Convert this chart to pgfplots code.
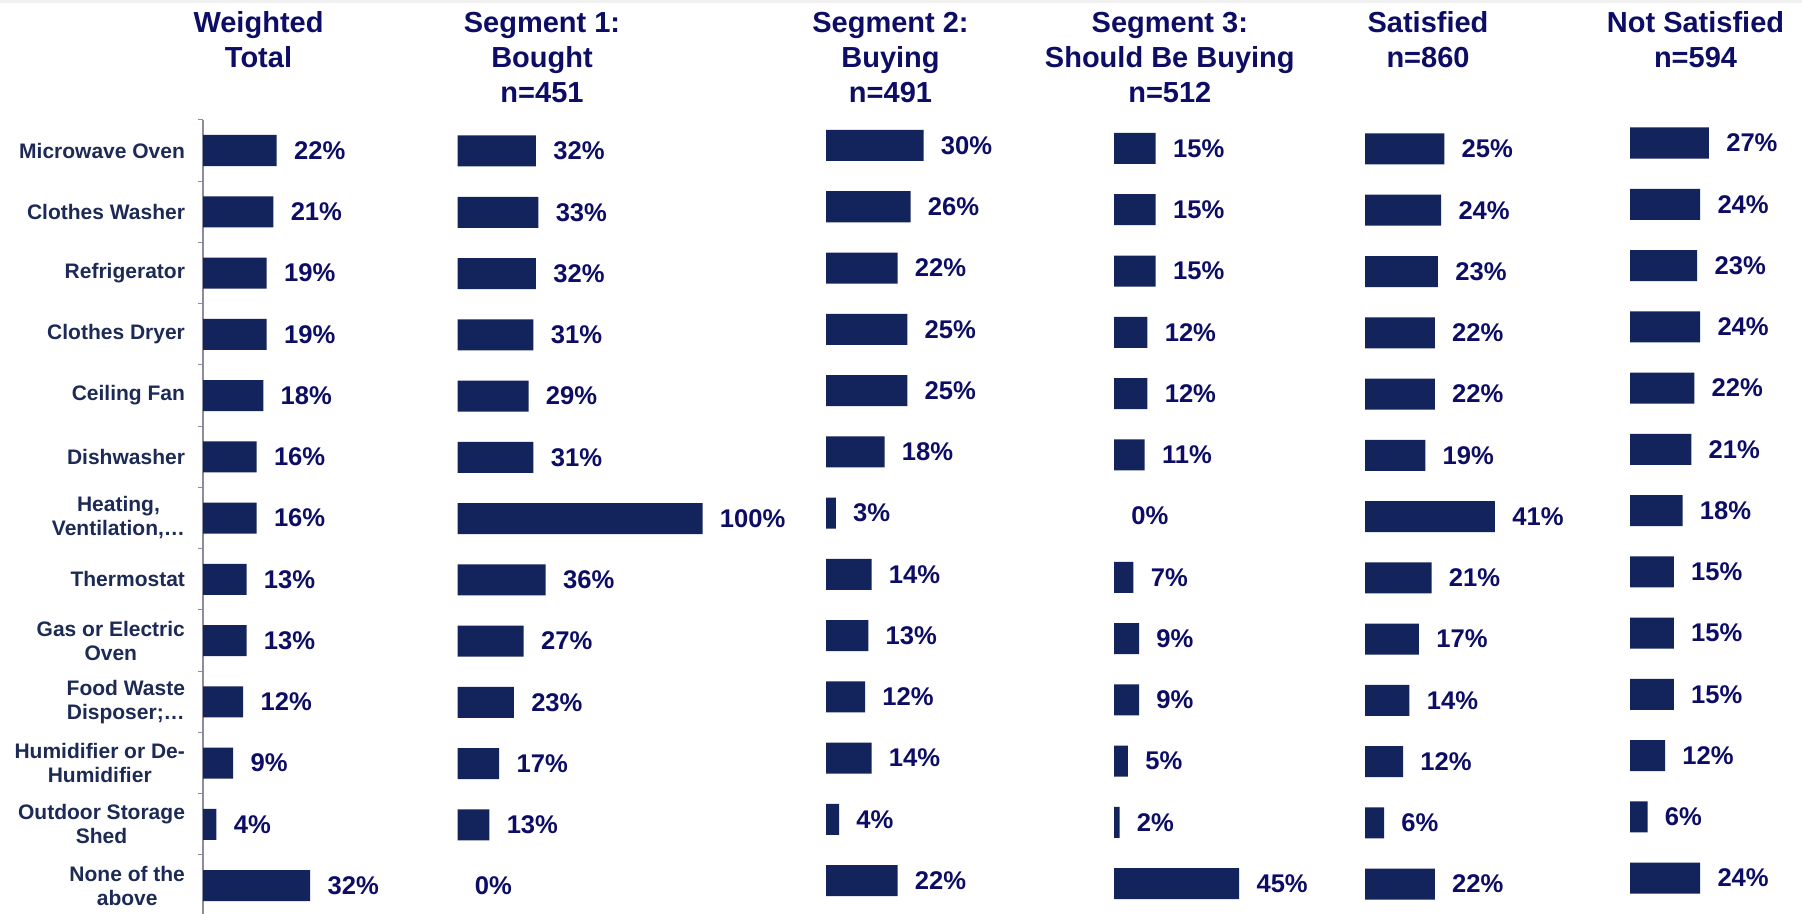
\documentclass[border=0pt]{standalone}
\usepackage{fontspec}
\setmainfont{Liberation Sans}
\usepackage{pgfplots}
\pgfplotsset{compat=1.18}
\definecolor{barblue}{HTML}{13235B}
\definecolor{navy}{HTML}{0D0D66}
\definecolor{catcol}{HTML}{1C2A55}
\definecolor{axisgray}{HTML}{8C8C9C}
\pgfplotsset{
  panel/.style={
    xbar, scale only axis, xmin=0, xmax=100, ymin=-0.5, ymax=12.5, y dir=reverse,
    height=398.125pt, bar width=15.5pt, clip=false, anchor=north west,
    point meta=x,
    /pgf/number format/assume math mode=true,
    nodes near coords={\pgfmathprintnumber{\pgfplotspointmeta}\%},
    nodes near coords align={horizontal},
    every node near coord/.append style={font=\bfseries\fontsize{12.8}{14}\selectfont, text=navy, inner sep=0pt, anchor=west, xshift=8.5pt},
  },
  hidden/.style={panel, hide axis},
  bars/.style={fill=barblue, draw=none, bar shift=0pt},
  zerobar/.style={fill=none, draw=none, bar shift=0pt},
}
\tikzset{ttl/.style={anchor=north, align=center, font=\bfseries\fontsize{14.5}{17.5}\selectfont, text=navy, inner sep=0pt}}
\begin{document}
\begin{tikzpicture}
\path[use as bounding box] (0,0) rectangle (901pt,457pt);
\fill[black!6] (0,455.5pt) rectangle (901pt,457pt);

\node[ttl] at (129.25pt,451.25pt) {Weighted\\Total};
\node[ttl] at (271pt,451.25pt) {Segment 1:\\Bought\\n=451};
\node[ttl] at (445.25pt,451.25pt) {Segment 2:\\Buying\\n=491};
\node[ttl] at (584.9pt,451.25pt) {Segment 3:\\Should Be Buying\\n=512};
\node[ttl] at (714pt,451.25pt) {Satisfied\\n=860};
\node[ttl] at (847.75pt,451.25pt) {Not Satisfied\\n=594};

% Weighted Total
\begin{axis}[panel, at={(101.5pt,397.06pt)}, width=167.5pt,
  axis y line*=left, axis x line=none, xtick=\empty,
  ytick={0,...,12}, minor ytick={-0.5,0.5,...,12.5},
  yticklabels={{Microwave Oven},{Clothes Washer},{Refrigerator},{Clothes Dryer},{Ceiling Fan},{Dishwasher},{Heating,\\Ventilation,…},{Thermostat},{Gas or Electric\\Oven},{Food Waste\\Disposer;…},{Humidifier or De-\\Humidifier},{Outdoor Storage\\Shed},{None of the\\above}},
  major tick length=0pt, minor tick length=2.5pt, tick align=outside,
  y axis line style={draw=axisgray, line width=0.6pt},
  tick style={axisgray, line width=0.6pt},
  yticklabel style={font=\bfseries\fontsize{10.5}{12}\selectfont, text=catcol, align=center, xshift=-5.5pt}]
\addplot[bars] coordinates {(22,0) (21,1) (19,2) (19,3) (18,4) (16,5) (16,6) (13,7) (13,8) (12,9) (9,10) (4,11) (32,12)};
\end{axis}

% Segment 1
\begin{axis}[hidden, at={(228.75pt,396.81pt)}, width=122.5pt]
\addplot[bars] coordinates {(32,0) (33,1) (32,2) (31,3) (29,4) (31,5) (100,6) (36,7) (27,8) (23,9) (17,10) (13,11)};
\addplot[zerobar] coordinates {(0,12)};
\end{axis}

% Segment 2
\begin{axis}[hidden, at={(413pt,399.56pt)}, width=162.5pt]
\addplot[bars] coordinates {(30,0) (26,1) (22,2) (25,3) (25,4) (18,5) (3,6) (14,7) (13,8) (12,9) (14,10) (4,11) (22,12)};
\end{axis}

% Segment 3
\begin{axis}[hidden, at={(557pt,398.06pt)}, width=139pt]
\addplot[bars] coordinates {(15,0) (15,1) (15,2) (12,3) (12,4) (11,5) (7,7) (9,8) (9,9) (5,10) (2,11) (45,12)};
\addplot[zerobar] coordinates {(0,6)};
\end{axis}

% Satisfied
\begin{axis}[hidden, at={(682.5pt,397.81pt)}, width=158.5pt]
\addplot[bars] coordinates {(25,0) (24,1) (23,2) (22,3) (22,4) (19,5) (41,6) (21,7) (17,8) (14,9) (12,10) (6,11) (22,12)};
\end{axis}

% Not Satisfied
\begin{axis}[hidden, at={(815pt,400.81pt)}, width=146pt]
\addplot[bars] coordinates {(27,0) (24,1) (23,2) (24,3) (22,4) (21,5) (18,6) (15,7) (15,8) (15,9) (12,10) (6,11) (24,12)};
\end{axis}
\end{tikzpicture}
\end{document}
